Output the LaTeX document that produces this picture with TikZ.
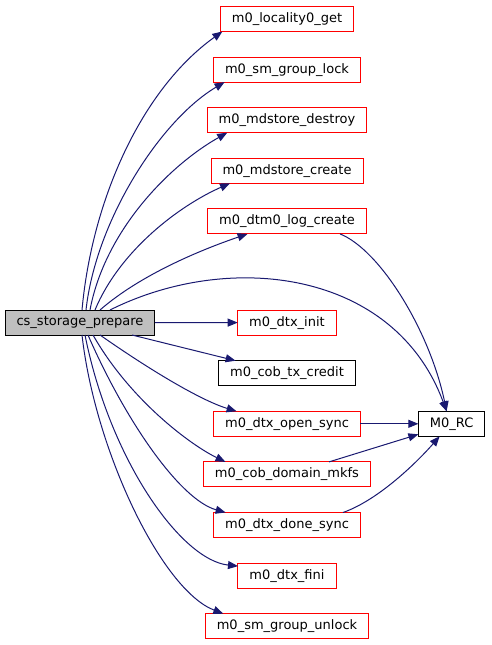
\documentclass[tikz,border=0pt]{standalone}
\usepackage{fontspec}
\setmainfont{DejaVu Sans}
\usepackage{tikz}
\usetikzlibrary{arrows.meta,positioning}
\definecolor{callblue}{HTML}{191970}
\definecolor{fnred}{HTML}{FF0000}
\definecolor{rootgray}{HTML}{BFBFBF}

\begin{document}
\begin{tikzpicture}[
  x=1pt,y=-1pt,
  fn/.style={rectangle,draw=#1,line width=1pt,minimum height=25pt,outer sep=0pt,
    inner xsep=11.5pt,inner ysep=3pt,font=\fontsize{13}{15}\selectfont},
  fn/.default={fnred},
  call/.style={-{Triangle[length=10pt,width=8pt]},draw=callblue,line width=1pt},
  node distance=25.6pt and 58pt,
]
  \useasboundingbox (0,0) rectangle (491,645);
  \node[fn=black,fill=rootgray] (prep) at (80,322.5) {cs\_storage\_prepare};
  \node[fn] (loc) at (287,19) {m0\_locality0\_get};
  \node[fn,below=of loc] (lock) {m0\_sm\_group\_lock};
  \node[fn,below=of lock] (mdd) {m0\_mdstore\_destroy};
  \node[fn,below=of mdd] (mdc) {m0\_mdstore\_create};
  \node[fn,below=of mdc] (dlog) {m0\_dtm0\_log\_create};
  \node[fn,below=76.2pt of dlog] (init) {m0\_dtx\_init};
  \node[fn=black,below=of init] (credit) {m0\_cob\_tx\_credit};
  \node[fn,below=of credit] (open) {m0\_dtx\_open\_sync};
  \node[fn,below=of open] (mkfs) {m0\_cob\_domain\_mkfs};
  \node[fn,below=of mkfs] (done) {m0\_dtx\_done\_sync};
  \node[fn,below=of done] (fini) {m0\_dtx\_fini};
  \node[fn,below=of fini] (unlock) {m0\_sm\_group\_unlock};
  \node[fn=black,right=of open] (rc) {M0\_RC};
  % calls from cs_storage_prepare
  \draw[call] ([xshift=2pt]prep.north) .. controls +(10,-110) and +(-81,58) .. ([xshift=2pt]loc.south west);
  \draw[call] ([xshift=6pt]prep.north) .. controls +(10,-90) and +(-64,38) .. ([xshift=11pt]lock.south west);
  \draw[call] ([xshift=10pt]prep.north) .. controls +(15,-80) and +(-57,32) .. ([xshift=20pt]mdd.south west);
  \draw[call] ([xshift=15pt]prep.north) .. controls +(25,-60) and +(-50,22) .. ([xshift=19pt]mdc.south west);
  \draw[call] ([xshift=20pt]prep.north) .. controls +(40,-35) and +(-47,16) .. ([xshift=40pt]dlog.south west);
  \draw[call] ([xshift=30pt]prep.north) .. controls +(120,-60) and +(-52,-141) .. ([xshift=-5pt]rc.north);
  \draw[call] (prep.east) -- (init.west);
  \draw[call] ([xshift=52pt]prep.south) -- ([xshift=17pt]credit.north west);
  \draw[call] ([xshift=20pt]prep.south) .. controls +(50,35) and +(-36,-11) .. ([xshift=23pt]open.north west);
  \draw[call] ([xshift=13pt]prep.south) .. controls +(37,65) and +(-35,-17) .. ([xshift=22pt]mkfs.north west);
  \draw[call] ([xshift=8pt]prep.south) .. controls +(37,85) and +(-46,-13) .. ([xshift=12pt]done.north west);
  \draw[call] ([xshift=5pt]prep.south) .. controls +(25,125) and +(-57,-6) .. ([yshift=-3pt]fini.north west);
  \draw[call] ([xshift=2pt]prep.south) .. controls +(13,115) and +(-62,-24) .. ([xshift=18pt]unlock.north west);
  % calls into M0_RC
  \draw[call] ([xshift=53pt]dlog.south) .. controls +(40,16) and +(-17,-81) .. ([xshift=-5pt]rc.north);
  \draw[call] (open.east) -- (rc.west);
  \draw[call] ([xshift=42pt]mkfs.north) -- ([yshift=2pt]rc.south west);
  \draw[call] ([xshift=56pt]done.north) .. controls +(37,-13) and +(-20,23) .. ([xshift=-12pt]rc.south);
\end{tikzpicture}
\end{document}
